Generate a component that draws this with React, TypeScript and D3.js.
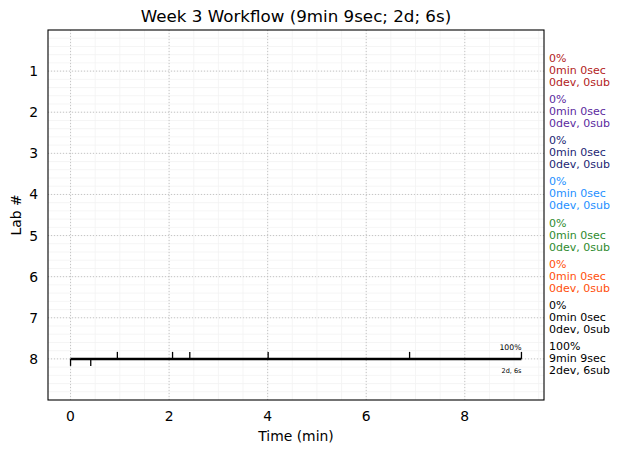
import React from "react";
import * as d3 from "d3";

const title = "Week 3 Workflow (9min 9sec; 2d; 6s)";
const labs = [1, 2, 3, 4, 5, 6, 7, 8];
const labColors = ["#b22222", "#5b2a9e", "#1c1f73", "#1e90ff", "#2e8b2e", "#ff4f0a", "#000000", "#000000"];
const labPercent = ["0%", "0%", "0%", "0%", "0%", "0%", "0%", "100%"];
const labDuration = ["0min 0sec", "0min 0sec", "0min 0sec", "0min 0sec", "0min 0sec", "0min 0sec", "0min 0sec", "9min 9sec"];
const labCounts = ["0dev, 0sub", "0dev, 0sub", "0dev, 0sub", "0dev, 0sub", "0dev, 0sub", "0dev, 0sub", "0dev, 0sub", "2dev, 6sub"];
const xTicks = [0, 2, 4, 6, 8];
const activeLab = 8;
const totalTime = 9.15;
const submissionTimes = [0.95, 2.07, 2.42, 4.01, 6.88, 9.15];
const devTimes = [0, 0.41];
const barPercentLabel = "100%";
const barCountLabel = "2d, 6s";

const W = 620, H = 453;
const left = 48, right = 544, top = 30, bottom = 400;
const font = "DejaVu Sans, sans-serif";

export default function App() {
  const pad = totalTime * 0.05;
  const x = d3.scaleLinear().domain([-pad, totalTime + pad]).range([left, right]);
  const y = d3.scaleLinear().domain([0, 9]).range([top, bottom]);
  const xMinor = d3.range(-0.5, 10, 0.5).filter((v) => x(v) > left && x(v) < right);
  const yMinor = d3.range(0, 9.001, 0.2).map((v) => +v.toFixed(2)).filter((v) => y(v) > top && y(v) < bottom);
  const yLine = y(activeLab);
  return (
    <svg width={W} height={H} style={{ position: "absolute", left: 0, top: 0, background: "#fff" }} fontFamily={font}>
      <rect x={0} y={0} width={W} height={H} fill="#fff" />
      {xMinor.map((v) => (
        <line key={"xm" + v} x1={x(v)} x2={x(v)} y1={top} y2={bottom} stroke="#f2f2f2" strokeWidth={0.8} />
      ))}
      {yMinor.map((v) => (
        <line key={"ym" + v} x1={left} x2={right} y1={y(v)} y2={y(v)} stroke="#f2f2f2" strokeWidth={0.8} />
      ))}
      {xTicks.map((v) => (
        <line key={"xg" + v} x1={x(v)} x2={x(v)} y1={top} y2={bottom} stroke="#b8b8b8" strokeWidth={0.8} strokeDasharray="1,2" />
      ))}
      {labs.map((v) => (
        <line key={"yg" + v} x1={left} x2={right} y1={y(v)} y2={y(v)} stroke="#b8b8b8" strokeWidth={0.8} strokeDasharray="1,2" />
      ))}
      <line x1={x(0)} x2={x(totalTime)} y1={yLine} y2={yLine} stroke="#000" strokeWidth={2.5} />
      {submissionTimes.map((t, i) => (
        <line key={"s" + i} x1={x(t)} x2={x(t)} y1={yLine} y2={yLine - 7} stroke="#000" strokeWidth={1.3} />
      ))}
      {devTimes.map((t, i) => (
        <line key={"d" + i} x1={x(t)} x2={x(t)} y1={yLine} y2={yLine + 7} stroke="#000" strokeWidth={1.3} />
      ))}
      <text x={x(totalTime)} y={yLine - 9} fontSize={7.7} textAnchor="end" fill="#000">{barPercentLabel}</text>
      <text x={x(totalTime)} y={yLine + 14} fontSize={6.5} textAnchor="end" fill="#000">{barCountLabel}</text>
      <rect x={left} y={top} width={right - left} height={bottom - top} fill="none" stroke="#000" strokeWidth={1.1} />
      {xTicks.map((v) => (
        <text key={"xt" + v} x={x(v)} y={421} fontSize={13.9} textAnchor="middle" fill="#000">{v}</text>
      ))}
      {labs.map((v) => (
        <text key={"yt" + v} x={38} y={y(v) + 5} fontSize={13.9} textAnchor="end" fill="#000">{v}</text>
      ))}
      {labs.map((v, i) => (
        <text key={"lab" + v} x={549} fontSize={11} fill={labColors[i]}>
          <tspan x={549} y={y(v) - 9}>{labPercent[i]}</tspan>
          <tspan x={549} y={y(v) + 3}>{labDuration[i]}</tspan>
          <tspan x={549} y={y(v) + 15}>{labCounts[i]}</tspan>
        </text>
      ))}
      <text x={(left + right) / 2} y={22} fontSize={16.7} textAnchor="middle" fill="#000">{title}</text>
      <text x={(left + right) / 2} y={441} fontSize={13.9} textAnchor="middle" fill="#000">Time (min)</text>
      <text transform={`translate(21,${(top + bottom) / 2}) rotate(-90)`} fontSize={13.9} textAnchor="middle" fill="#000">Lab #</text>
    </svg>
  );
}
